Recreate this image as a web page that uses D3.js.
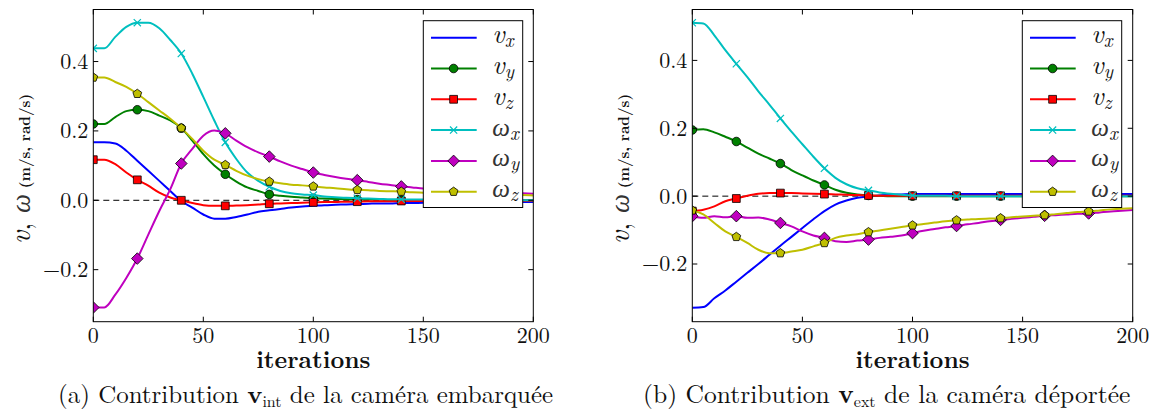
<!DOCTYPE html>
<html><head><meta charset="utf-8">
<script src="https://cdn.jsdelivr.net/npm/d3@7"></script>
<style>body{margin:0;background:#fff} svg{display:block}</style>
</head><body><svg id="chart" width="1155" height="412"></svg>
<script>
// ---------- data ----------
const iterations = [0,5,10,15,20,25,30,35,40,45,50,55,60,65,70,75,80,85,90,95,100,
  105,110,115,120,125,130,135,140,145,150,155,160,165,170,175,180,185,190,195,200];

// panel (a): caméra embarquée
const a_vx = [0.167,0.167,0.164,0.143,0.114,0.085,0.056,0.027,-0.002,-0.021,-0.041,-0.053,-0.053,-0.048,-0.041,-0.033,-0.029,-0.025,-0.021,-0.018,-0.016,
  -0.014,-0.013,-0.012,-0.011,-0.010,-0.009,-0.009,-0.008,-0.008,-0.007,-0.007,-0.006,-0.006,-0.006,-0.005,-0.005,-0.005,-0.005,-0.005,-0.005];
const a_vy = [0.220,0.220,0.240,0.257,0.261,0.257,0.244,0.230,0.208,0.172,0.133,0.100,0.075,0.054,0.037,0.027,0.017,0.013,0.010,0.008,0.006,
  0.005,0.004,0.003,0.002,0.002,0.002,0.001,0.001,0.001,0.001,0.001,0.001,0.000,0.000,0.000,0.000,0.000,0.000,0.000,0.000];
const a_vz = [0.117,0.117,0.104,0.080,0.059,0.042,0.022,0.008,0.000,-0.008,-0.014,-0.016,-0.016,-0.015,-0.014,-0.012,-0.010,-0.009,-0.008,-0.007,-0.006,
  -0.005,-0.005,-0.004,-0.004,-0.003,-0.003,-0.003,-0.002,-0.002,-0.002,-0.002,-0.002,-0.001,-0.001,-0.001,-0.001,-0.001,-0.001,-0.001,-0.001];
const a_wx = [0.438,0.438,0.471,0.500,0.512,0.512,0.496,0.462,0.423,0.365,0.298,0.230,0.167,0.119,0.080,0.056,0.039,0.027,0.020,0.017,0.015,
  0.011,0.009,0.007,0.006,0.005,0.004,0.003,0.003,0.002,0.002,0.002,0.001,0.001,0.001,0.001,0.001,0.000,0.000,0.000,0.000];
const a_wy = [-0.309,-0.309,-0.272,-0.224,-0.168,-0.099,-0.031,0.032,0.106,0.148,0.186,0.201,0.193,0.172,0.153,0.138,0.126,0.112,0.100,0.090,0.080,
  0.073,0.067,0.062,0.058,0.053,0.048,0.044,0.040,0.037,0.034,0.032,0.030,0.028,0.027,0.025,0.024,0.022,0.021,0.020,0.019];
const a_wz = [0.354,0.354,0.341,0.327,0.307,0.283,0.259,0.235,0.208,0.177,0.143,0.117,0.102,0.085,0.071,0.061,0.054,0.049,0.045,0.043,0.040,
  0.037,0.035,0.032,0.030,0.029,0.027,0.026,0.025,0.023,0.022,0.021,0.020,0.019,0.018,0.017,0.016,0.016,0.015,0.015,0.014];

// panel (b): caméra déportée
const b_vx = [-0.329,-0.327,-0.301,-0.278,-0.252,-0.226,-0.200,-0.173,-0.146,-0.120,-0.094,-0.068,-0.044,-0.025,-0.013,-0.005,-0.001,0.002,0.004,0.005,0.006,
  0.006,0.006,0.006,0.006,0.006,0.006,0.006,0.006,0.006,0.006,0.006,0.006,0.006,0.006,0.006,0.006,0.006,0.006,0.006,0.006];
const b_vy = [0.195,0.197,0.188,0.175,0.161,0.143,0.125,0.111,0.096,0.077,0.061,0.046,0.033,0.019,0.010,0.005,0.002,0.001,0.000,0.000,0.000,
  0.000,0.000,0.000,0.000,0.000,0.000,0.000,0.000,0.000,0.000,0.000,0.000,0.000,0.000,0.000,0.000,0.000,0.000,0.000,0.000];
const b_vz = [-0.044,-0.040,-0.030,-0.015,-0.007,0.001,0.007,0.009,0.009,0.009,0.008,0.007,0.006,0.005,0.004,0.003,0.002,0.001,0.001,0.001,0.001,
  0.001,0.001,0.001,0.001,0.001,0.001,0.001,0.001,0.001,0.001,0.001,0.001,0.001,0.001,0.001,0.001,0.001,0.001,0.001,0.001];
const b_wx = [0.511,0.509,0.474,0.430,0.390,0.351,0.309,0.270,0.229,0.190,0.153,0.116,0.082,0.054,0.035,0.023,0.017,0.011,0.007,0.004,0.002,
  0.001,0.001,0.001,0.000,0.000,0.000,0.000,0.000,0.000,0.000,0.000,0.000,0.000,0.000,0.000,0.000,0.000,0.000,0.000,0.000];
const b_wy = [-0.059,-0.064,-0.059,-0.062,-0.059,-0.064,-0.063,-0.069,-0.079,-0.089,-0.104,-0.116,-0.123,-0.133,-0.135,-0.131,-0.128,-0.123,-0.120,-0.116,-0.109,
  -0.102,-0.097,-0.092,-0.088,-0.083,-0.079,-0.074,-0.070,-0.067,-0.064,-0.061,-0.058,-0.056,-0.054,-0.052,-0.051,-0.048,-0.045,-0.043,-0.041];
const b_wz = [-0.042,-0.054,-0.079,-0.104,-0.120,-0.138,-0.158,-0.168,-0.168,-0.163,-0.158,-0.148,-0.138,-0.123,-0.116,-0.112,-0.106,-0.101,-0.096,-0.091,-0.086,
  -0.082,-0.078,-0.074,-0.071,-0.069,-0.067,-0.066,-0.065,-0.062,-0.060,-0.058,-0.056,-0.053,-0.050,-0.047,-0.045,-0.042,-0.039,-0.037,-0.036];

const xTicks = [0, 50, 100, 150, 200];
const yTicks = [-0.2, 0.0, 0.2, 0.4];
const legendSymbols = ["v", "v", "v", "ω", "ω", "ω"];
const legendSubs = ["x", "y", "z", "x", "y", "z"];
const captionA = ["(a) Contribution ", "v", "int", " de la caméra embarquée"];
const captionB = ["(b) Contribution ", "v", "ext", " de la caméra déportée"];
const xLabel = "iterations";
const yLabelMath = ["v", ", ", "ω"];
const yLabelUnits = " (m/s, rad/s)";

// ---------- styles ----------
const colors = ["#0000ff", "#008000", "#ff0000", "#00bfbf", "#bf00bf", "#bfbf00"];
const markers = [null, "circle", "square", "x", "diamond", "pentagon"];
const markEvery = 20;
const CM = '"Latin Modern Roman", "Liberation Serif", serif';
const GREEK = '"Liberation Serif", "DejaVu Serif", serif';
const INK = "#111";

const svg = d3.select("#chart");

function markerPath(type) {
  const p = d3.path();
  if (type === "circle") { p.arc(0, 0, 4.3, 0, 2 * Math.PI); p.closePath(); }
  else if (type === "square") { p.rect(-3.9, -3.9, 7.8, 7.8); }
  else if (type === "diamond") { const r = 5.8; p.moveTo(0, -r); p.lineTo(r, 0); p.lineTo(0, r); p.lineTo(-r, 0); p.closePath(); }
  else if (type === "pentagon") {
    const r = 4.6;
    for (let k = 0; k < 5; k++) {
      const a = -Math.PI / 2 + k * 2 * Math.PI / 5;
      if (k === 0) p.moveTo(r * Math.cos(a), r * Math.sin(a)); else p.lineTo(r * Math.cos(a), r * Math.sin(a));
    }
    p.closePath();
  } else if (type === "x") { const r = 3.6; p.moveTo(-r, -r); p.lineTo(r, r); p.moveTo(-r, r); p.lineTo(r, -r); }
  return p.toString();
}

function drawMarker(g, type, color, x, y) {
  if (!type) return;
  const path = g.append("path").attr("d", markerPath(type)).attr("transform", `translate(${x},${y})`);
  if (type === "x") path.attr("fill", "none").attr("stroke", color).attr("stroke-width", 1.2);
  else path.attr("fill", color).attr("stroke", "#000").attr("stroke-width", 0.8);
}

function fitFont(textSel, baseSize, target) {
  const w = textSel.node().getComputedTextLength();
  if (w > 0) {
    const k = Math.max(0.85, Math.min(1.15, target / w));
    textSel.style("font-size", (baseSize * k) + "px");
  }
}

function drawPanel(cfg, id) {
  const x = d3.scaleLinear().domain([0, 200]).range([cfg.left, cfg.right]);
  const y = d3.scaleLinear().domain(cfg.yDomain).range([cfg.bottom, cfg.top]);
  const g = svg.append("g");

  const clipId = "clip" + id;
  svg.append("clipPath").attr("id", clipId).append("rect")
    .attr("x", cfg.left).attr("y", cfg.top).attr("width", cfg.right - cfg.left).attr("height", cfg.bottom - cfg.top);
  const plot = g.append("g").attr("clip-path", `url(#${clipId})`);

  plot.append("line").attr("x1", x(0)).attr("x2", x(200)).attr("y1", y(0)).attr("y2", y(0))
    .attr("stroke", "#000").attr("stroke-width", 1).attr("stroke-dasharray", "6,4");

  const line = d3.line().x((d, i) => x(iterations[i])).y(d => y(d)).curve(d3.curveMonotoneX);
  cfg.series.forEach((vals, si) => {
    plot.append("path").attr("d", line(vals)).attr("fill", "none")
      .attr("stroke", colors[si]).attr("stroke-width", 2).attr("stroke-linejoin", "round");
    vals.forEach((v, i) => {
      const it = iterations[i];
      if (it % markEvery === 0 && it < 200) drawMarker(plot, markers[si], colors[si], x(it), y(v));
    });
  });

  g.append("rect").attr("x", cfg.left).attr("y", cfg.top).attr("width", cfg.right - cfg.left)
    .attr("height", cfg.bottom - cfg.top).attr("fill", "none").attr("stroke", "#000").attr("stroke-width", 1);

  const tl = 5;
  xTicks.forEach(t => {
    g.append("line").attr("x1", x(t)).attr("x2", x(t)).attr("y1", cfg.bottom).attr("y2", cfg.bottom - tl).attr("stroke", "#000");
    g.append("line").attr("x1", x(t)).attr("x2", x(t)).attr("y1", cfg.top).attr("y2", cfg.top + tl).attr("stroke", "#000");
    g.append("text").attr("x", x(t)).attr("y", cfg.bottom + 21).attr("text-anchor", "middle")
      .style("font-family", CM).style("font-size", "22px").attr("fill", INK).text(d3.format("d")(t));
  });
  yTicks.forEach(t => {
    g.append("line").attr("x1", cfg.left).attr("x2", cfg.left + tl).attr("y1", y(t)).attr("y2", y(t)).attr("stroke", "#000");
    g.append("line").attr("x1", cfg.right).attr("x2", cfg.right - tl).attr("y1", y(t)).attr("y2", y(t)).attr("stroke", "#000");
    g.append("text").attr("x", cfg.left - 5).attr("y", y(t)).attr("dy", "0.34em").attr("text-anchor", "end")
      .style("font-family", CM).style("font-size", "22px").attr("fill", INK)
      .text(d3.format(".1f")(t).replace("-", "\u2212"));
  });

  // legend
  const lg = g.append("g");
  const lx = cfg.legendX, ly = 20.7, lw = 99.4, lh = 186.8;
  lg.append("rect").attr("x", lx).attr("y", ly).attr("width", lw).attr("height", lh)
    .attr("fill", "#fff").attr("stroke", "#000").attr("stroke-width", 1);
  legendSymbols.forEach((s, i) => {
    const ry = 37.7 + i * 30.8;
    lg.append("line").attr("x1", lx + 7.7).attr("x2", lx + 53.4).attr("y1", ry).attr("y2", ry)
      .attr("stroke", colors[i]).attr("stroke-width", 2);
    drawMarker(lg, markers[i], colors[i], lx + 30.3, ry);
    const greek = s === "ω";
    const t = lg.append("text").attr("x", lx + 69).attr("y", ry + 5.5)
      .style("font-family", greek ? GREEK : CM).style("font-style", "italic")
      .style("font-size", greek ? "25px" : "27px").attr("fill", greek ? "#333" : INK);
    t.append("tspan").text(s);
    t.append("tspan").style("font-family", CM).style("font-size", "19px").attr("fill", INK).attr("dy", 4).text(legendSubs[i]);
  });

  // x label
  g.append("text").attr("x", (cfg.left + cfg.right) / 2).attr("y", 368).attr("text-anchor", "middle")
    .style("font-family", CM).style("font-weight", "bold").style("font-size", "24px").attr("fill", INK).text(xLabel);

  // y label
  const yl = g.append("text").attr("transform", `translate(${cfg.left - 63.5},169) rotate(-90)`)
    .attr("text-anchor", "middle").style("font-family", CM).style("font-size", "29px").attr("fill", INK);
  yl.append("tspan").style("font-style", "italic").text(yLabelMath[0]);
  yl.append("tspan").text(yLabelMath[1]);
  yl.append("tspan").style("font-family", GREEK).style("font-style", "italic").style("font-size", "27px").attr("fill", "#333").text(yLabelMath[2]);
  yl.append("tspan").style("font-weight", "bold").style("font-size", "15px").text(yLabelUnits);

  // caption
  const cap = g.append("text").attr("x", cfg.captionX).attr("y", 403)
    .style("font-family", CM).style("font-size", "23px").attr("fill", INK);
  cap.append("tspan").text(cfg.caption[0]);
  cap.append("tspan").style("font-weight", "bold").text(cfg.caption[1]);
  cap.append("tspan").style("font-size", "16px").attr("dy", 4).text(cfg.caption[2]);
  cap.append("tspan").attr("dy", -4).text(cfg.caption[3]);
  fitFont(cap, 23, cfg.captionW);
}

drawPanel({ left: 93.3, right: 533.3, top: 9.5, bottom: 321.7, yDomain: [-0.35, 0.55],
  series: [a_vx, a_vy, a_vz, a_wx, a_wy, a_wz], legendX: 423.3,
  caption: captionA, captionX: 58, captionW: 497 }, "a");
drawPanel({ left: 692.3, right: 1132.7, top: 9.5, bottom: 321.7, yDomain: [-0.37, 0.55],
  series: [b_vx, b_vy, b_vz, b_wx, b_wy, b_wz], legendX: 1022.3,
  caption: captionB, captionX: 643, captionW: 490 }, "b");
</script></body></html>
